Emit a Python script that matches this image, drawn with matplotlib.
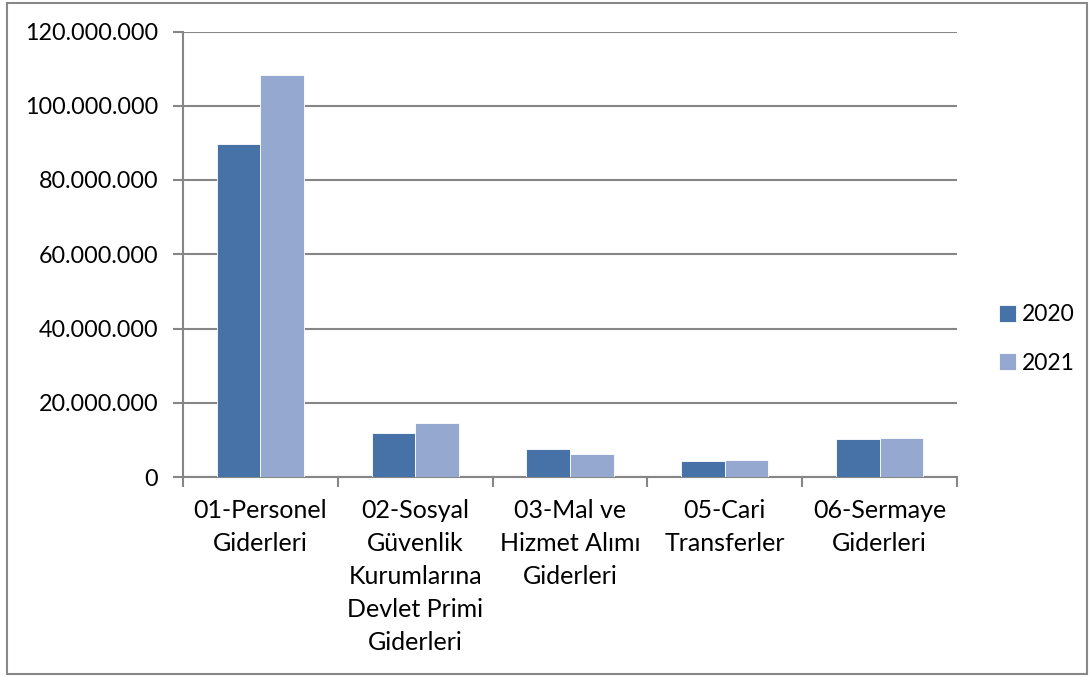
import matplotlib
matplotlib.use("Agg")
import matplotlib.pyplot as plt
from matplotlib.patches import Rectangle
from matplotlib.ticker import FuncFormatter, MultipleLocator
import numpy as np

categories = ["01-Personel\nGiderleri",
              "02-Sosyal\nGüvenlik\nKurumlarına\nDevlet Primi\nGiderleri",
              "03-Mal ve\nHizmet Alımı\nGiderleri",
              "05-Cari\nTransferler",
              "06-Sermaye\nGiderleri"]
series_names = ["2020", "2021"]
values_2020 = [89800000, 11900000, 7500000, 4200000, 10300000]
values_2021 = [108200000, 14600000, 6200000, 4500000, 10500000]
colors = ["#4672A7", "#95A9D0"]

plt.rcParams['font.family'] = ['Lato', 'DejaVu Sans']

fig = plt.figure(figsize=(10.89, 6.77), dpi=100)
ax = fig.add_axes([183/1089, 1-477/677, (957-183)/1089, (477-31.5)/677])

x = np.arange(len(categories))
w = 0.282
ax.bar(x - w/2, values_2020, w, color=colors[0], edgecolor="#ffffff", linewidth=0.6, label=series_names[0], zorder=3)
ax.bar(x + w/2, values_2021, w, color=colors[1], edgecolor="#ffffff", linewidth=0.6, label=series_names[1], zorder=3)

ax.set_xlim(-0.5, len(categories) - 0.5)
ax.set_ylim(0, 120000000)
ax.yaxis.set_major_locator(MultipleLocator(20000000))
ax.yaxis.set_major_formatter(FuncFormatter(lambda v, p: f"{int(v):,}".replace(",", ".")))
ax.grid(axis="y", color="#868686", linewidth=1.5, zorder=0)

for s in ["top", "right"]:
    ax.spines[s].set_visible(False)
for s in ["left", "bottom"]:
    ax.spines[s].set_color("#868686")
    ax.spines[s].set_linewidth(1.5)

ax.set_xticks(x)
ax.set_xticklabels(categories, fontsize=18, linespacing=1.52, va="top")
ax.tick_params(axis="x", length=0, pad=16)
ax.set_xticks(np.arange(-0.5, len(categories)), minor=True)
ax.tick_params(axis="x", which="minor", length=7, width=1.5, color="#868686", direction="out")
ax.tick_params(axis="y", length=7, width=1.5, color="#868686", direction="out", labelsize=16.8, pad=11)

leg = ax.legend(loc="center left", bbox_to_anchor=(1.054, 0.31), frameon=False,
                fontsize=16.5, handlelength=0.75, handleheight=0.75, handletextpad=0.25,
                labelspacing=1.2, borderpad=0, borderaxespad=0)

fig.patches.append(Rectangle((7/1089, 3/677), (1087-7)/1089, (674-3)/677, transform=fig.transFigure,
                             fill=False, edgecolor="#888888", linewidth=1.5))

fig.savefig("out.png", dpi=100)
